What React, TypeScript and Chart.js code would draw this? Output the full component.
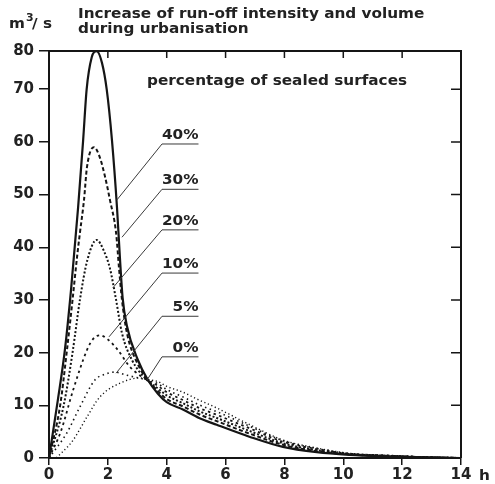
import React, { useEffect, useRef } from "react";
import { Chart, registerables } from "chart.js";

Chart.register(...registerables);

const FONT = "'DejaVu Sans', sans-serif";
const INK = "#151515";
const TEXT = "#222";
const SX = 1.09; // horizontal stretch of the reference lettering

const titleLines = ["Increase of run-off intensity and volume", "during urbanisation"];
const legendTitle = "percentage of sealed surfaces";
const xTicks = [0, 2, 4, 6, 8, 10, 12, 14];
const yTickValues = [0, 10, 20, 30, 40, 50, 60, 70];
const yTickLabels = ["0", "10", "20", "30", "40", "50", "60", "70", "80"];
const yTop = 77.25; // value at the frame top (labelled 80 in the reference)

// 40 % sealed (solid)
const h40 = [0, 0.3, 0.54, 0.75, 0.99, 1.16, 1.28, 1.45, 1.62, 1.8, 1.96, 2.14, 2.31, 2.41, 2.5, 2.65, 3.02, 3.36, 3.7, 4.0, 4.55, 5.1, 5.7, 6.83, 7.95, 9.1, 10.2, 11.5, 12.5, 14];
const q40 = [0, 11, 20.5, 32, 47.6, 60.3, 70, 76, 77.2, 75, 70, 60.3, 47.6, 38, 30.5, 25, 18.6, 14.8, 12.2, 10.6, 9.2, 7.6, 6.3, 4.0, 2.1, 1.1, 0.6, 0.3, 0.15, 0];
// 30 %
const h30 = [0, 0.38, 0.6, 0.8, 0.95, 1.05, 1.19, 1.29, 1.53, 1.7, 1.9, 2.07, 2.28, 2.38, 2.48, 2.65, 3.0, 3.36, 3.7, 4.0, 4.55, 5.1, 5.7, 6.83, 7.95, 9.1, 10.2, 11.5, 12.5, 14];
const q30 = [0, 10, 20, 30, 38, 42.7, 49, 55.2, 59, 57.5, 53.5, 49, 42.7, 36, 30, 23.7, 18, 14.8, 12.7, 11.2, 9.8, 8.3, 7.0, 4.6, 2.5, 1.3, 0.7, 0.35, 0.2, 0];
// 20 %
const h20 = [0, 0.5, 0.8, 1.05, 1.3, 1.62, 1.85, 2.07, 2.28, 2.48, 2.82, 3.33, 3.7, 4.0, 4.55, 5.1, 5.7, 6.83, 7.95, 9.1, 10.2, 11.5, 12.5, 14];
const q20 = [0, 10, 20, 30, 37.5, 41.4, 39.5, 36, 30, 23.7, 18.6, 14.8, 13.2, 11.9, 10.4, 8.9, 7.6, 5.1, 2.8, 1.5, 0.75, 0.4, 0.2, 0];
// 10 %
const h10 = [0, 0.4, 0.82, 1.29, 1.5, 1.73, 2.0, 2.34, 2.75, 3.33, 3.7, 4.0, 4.55, 5.1, 5.7, 6.83, 7.95, 9.1, 10.2, 11.5, 12.5, 14];
const q10 = [0, 5, 12.9, 20.5, 22.6, 23.3, 22.5, 20.5, 17.3, 14.8, 13.7, 12.5, 11.0, 9.5, 8.2, 5.6, 3.1, 1.7, 0.8, 0.45, 0.2, 0];
// 5 %
const h5 = [0, 0.6, 1.05, 1.56, 1.9, 2.24, 2.65, 3.33, 3.7, 4.0, 4.55, 5.1, 5.7, 6.83, 7.95, 9.1, 10.2, 11.5, 12.5, 14];
const q5 = [0, 4.7, 9.7, 14.8, 15.9, 16.3, 15.7, 14.8, 14.1, 13.0, 11.6, 10.1, 8.8, 6.0, 3.3, 1.8, 0.85, 0.5, 0.25, 0];
// 0 %
const h0 = [0.25, 0.82, 1.29, 1.73, 2.41, 3.09, 3.36, 3.7, 4.0, 4.55, 5.1, 5.7, 6.83, 7.95, 9.1, 10.2, 11.5, 12.5, 14];
const q0 = [0, 3.4, 7.8, 11.6, 14.2, 15.2, 14.9, 14.5, 13.6, 12.5, 11.0, 9.5, 6.3, 3.4, 1.9, 0.9, 0.5, 0.25, 0];

const seriesLabels = ["40%", "30%", "20%", "10%", "5%", "0%"];
const seriesHours = [h40, h30, h20, h10, h5, h0];
const seriesValues = [q40, q30, q20, q10, q5, q0];
const seriesDash = [[], [4, 2.5], [2, 2], [2.5, 3.5], [1.5, 3.5], [1.2, 2.6]];
const seriesWidth = [2.2, 2, 2, 1.8, 1.6, 1.4];

// annotation leaders (data coordinates)
const labelLineY = [59.6, 51.0, 43.3, 35.1, 26.9, 19.2];
const labelLineX = [3.84, 5.08];
const leaderEndX = [2.31, 2.48, 2.17, 2.04, 2.28, 3.33];
const leaderEndY = [49.0, 41.9, 32.3, 23.0, 16.1, 14.8];
const legendTitlePos = [3.33, 70.8];

function stretchText(ctx: CanvasRenderingContext2D, s: string, x: number, y: number, size: number, align: "left" | "right" = "left") {
  ctx.save();
  ctx.font = `bold ${size}px ${FONT}`;
  ctx.textBaseline = "alphabetic";
  ctx.textAlign = "left";
  const w = ctx.measureText(s).width * SX;
  const left = align === "right" ? x - w : x;
  ctx.translate(left, y);
  ctx.scale(SX, 1);
  ctx.fillStyle = TEXT;
  ctx.fillText(s, 0, 0);
  ctx.restore();
}

const overlay = {
  id: "overlay",
  afterDatasetsDraw(chart: any) {
    const { ctx, chartArea: a, scales } = chart;
    const x = scales.x;
    const y = scales.y;
    ctx.save();
    ctx.strokeStyle = INK;
    ctx.lineWidth = 2;
    ctx.beginPath();
    ctx.moveTo(a.left, a.top);
    ctx.lineTo(a.right, a.top);
    ctx.lineTo(a.right, a.bottom);
    ctx.stroke();

    ctx.lineWidth = 1.5;
    ctx.beginPath();
    xTicks.slice(1, -1).forEach((v) => {
      const px = x.getPixelForValue(v);
      ctx.moveTo(px, a.top);
      ctx.lineTo(px, a.top + 7);
    });
    yTickValues.slice(1).forEach((v) => {
      const py = y.getPixelForValue(v);
      ctx.moveTo(a.right, py);
      ctx.lineTo(a.right - 10, py);
    });
    ctx.stroke();

    // leader lines
    ctx.lineWidth = 1;
    ctx.strokeStyle = "#3a3a3a";
    seriesLabels.forEach((lab, i) => {
      const x0 = x.getPixelForValue(leaderEndX[i]);
      const y0 = y.getPixelForValue(leaderEndY[i]);
      const x1 = x.getPixelForValue(labelLineX[0]);
      const x2 = x.getPixelForValue(labelLineX[1]);
      const y1 = y.getPixelForValue(labelLineY[i]);
      ctx.beginPath();
      ctx.moveTo(x0, y0);
      ctx.lineTo(x1, y1);
      ctx.lineTo(x2, y1);
      ctx.stroke();
      stretchText(ctx, lab, x2, y1 - 5, 14, "right");
    });

    stretchText(ctx, legendTitle, x.getPixelForValue(legendTitlePos[0]), y.getPixelForValue(legendTitlePos[1]), 14);
    ctx.restore();
  },
  afterDraw(chart: any) {
    const { ctx } = chart;
    stretchText(ctx, titleLines[0], 78, 18, 14);
    stretchText(ctx, titleLines[1], 78, 33, 14);
    // unit m³/ s
    stretchText(ctx, "m", 9, 28, 14);
    stretchText(ctx, "3", 26, 21, 10);
    stretchText(ctx, "/ s", 32, 28, 14);
    stretchText(ctx, "h", 479, 480, 14);
  },
};

export default function App() {
  const ref = useRef<HTMLCanvasElement | null>(null);
  useEffect(() => {
    if (!ref.current) return;
    const chart = new Chart(ref.current, {
      type: "line",
      data: {
        datasets: seriesLabels.map((lab, i) => ({
          label: lab,
          data: seriesHours[i].map((hx, j) => ({ x: hx, y: seriesValues[i][j] })),
          borderColor: INK,
          borderWidth: seriesWidth[i],
          borderDash: seriesDash[i],
          pointRadius: 0,
          fill: false,
          cubicInterpolationMode: "monotone" as const,
        })),
      },
      options: {
        animation: false,
        responsive: false,
        devicePixelRatio: 1,
        layout: { padding: { top: 51, right: 34, left: 0, bottom: 0 } },
        plugins: { legend: { display: false }, tooltip: { enabled: false }, title: { display: false } },
        scales: {
          x: {
            type: "linear",
            min: 0,
            max: 14,
            afterBuildTicks: (s: any) => {
              s.ticks = xTicks.map((value) => ({ value }));
            },
            afterFit: (s: any) => {
              s.height = 26;
            },
            ticks: { color: TEXT, font: { family: FONT, size: 15, weight: "bold" }, padding: 1, maxRotation: 0, autoSkip: false },
            grid: { drawOnChartArea: false, drawTicks: true, tickLength: 7, color: INK, lineWidth: 1.5 },
            border: { display: true, color: INK, width: 2 },
          },
          y: {
            type: "linear",
            min: 0,
            max: yTop,
            afterBuildTicks: (s: any) => {
              s.ticks = [...yTickValues, yTop].map((value) => ({ value }));
            },
            afterFit: (s: any) => {
              s.width = 49;
            },
            ticks: {
              color: TEXT,
              font: { family: FONT, size: 15, weight: "bold" },
              padding: 5,
              autoSkip: false,
              callback: (_v: any, i: number) => yTickLabels[i],
            },
            grid: { drawOnChartArea: false, drawTicks: true, tickLength: 10, color: INK, lineWidth: 1.5 },
            border: { display: true, color: INK, width: 2 },
          },
        },
      },
      plugins: [overlay],
    });
    return () => chart.destroy();
  }, []);
  return (
    <div style={{ position: "absolute", left: 0, top: 0, width: 495, height: 484, background: "#fff" }}>
      <canvas ref={ref} width={495} height={484} style={{ display: "block" }} />
    </div>
  );
}
